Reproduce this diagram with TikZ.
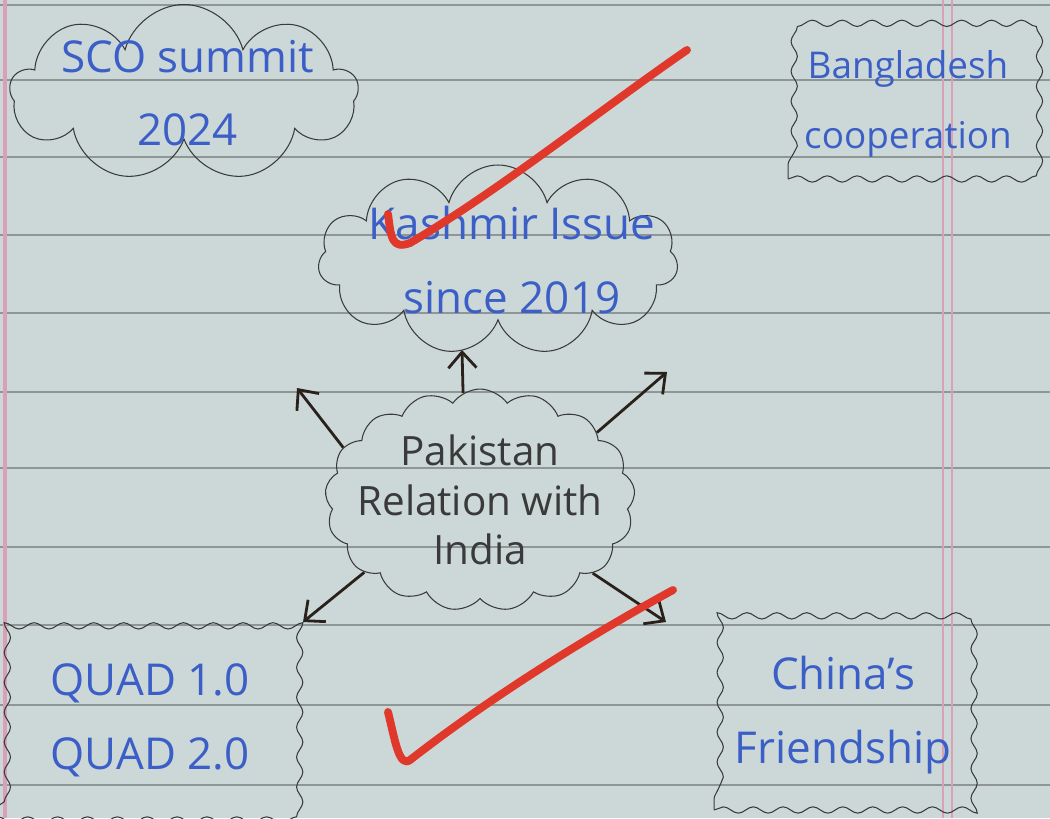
\documentclass[tikz,border=0pt]{standalone}
\usepackage{fontspec}
\setmainfont{Open Sans}
\usetikzlibrary{shapes.symbols,decorations.pathmorphing,arrows.meta}
\definecolor{paper}{HTML}{CCD8D8}
\definecolor{ruling}{HTML}{8E9696}
\definecolor{margin}{HTML}{D8A2B4}
\definecolor{pen}{HTML}{3B5FC6}
\definecolor{pencil}{HTML}{3A3A3A}
\definecolor{ink}{HTML}{2B211C}
\definecolor{marker}{HTML}{E0382A}

\begin{document}
\begin{tikzpicture}[x=0.02cm,y=-0.02cm,
	bubble/.style={cloud,cloud ignores aspect,draw=pencil,line width=0.6pt,inner sep=0pt},
	wavybox/.style={draw=pencil,line width=0.6pt,inner sep=0pt,decorate,decoration={snake,amplitude=1.8pt,segment length=17pt}},
	note/.style={text=pen,align=center,font=\fontsize{25}{42}\selectfont},
	pointer/.style={draw=ink,line width=1.6pt,-{Straight Barb[length=9pt,width=16pt]}},
	tick/.style={draw=marker,line width=4.5pt,line cap=round,line join=round}]
	        \fill[paper] (0,0) rectangle (1050,818);
	        \useasboundingbox (0,0) rectangle (1050,818);
	        \foreach \y in {5,80,157,235,313,392,468,547,625,705,785}
	        	\draw[ruling,line width=1.1pt] (0,\y) -- (1050,\y);
	        \draw[margin,line width=2.5pt] (5,0) -- (5,818);
	        \draw[margin,line width=1pt] (943,0) -- (943,818) (952,0) -- (952,818);

	        \node[bubble,cloud puffs=9,minimum width=6.96cm,minimum height=3.54cm,
	        	label={[note,xshift=2pt]center:SCO summit\\2024}] at (184,93) (sco) {};
	        \node[wavybox,minimum width=4.8cm,minimum height=3cm,
	        	label={[note,font=\fontsize{21}{40}\selectfont]center:Bangladesh\\cooperation}] at (908,104) (bd) {};
	        \node[bubble,cloud puffs=11,minimum width=7.2cm,minimum height=3.8cm,
	        	label={[note,xshift=8pt]center:Kashmir Issue\\since 2019}] at (498,260) (kash) {};
	        \node[bubble,cloud puffs=17,cloud puff arc=110,minimum width=6.2cm,minimum height=4.44cm,
	        	label={[note,text=pencil,font=\fontsize{23}{28}\selectfont]center:Pakistan\\Relation with\\India}] at (480,500) (pak) {};
	        \node[wavybox,minimum width=5.9cm,minimum height=4cm,
	        	label={[note,xshift=8pt]center:QUAD 1.0\\QUAD 2.0}] at (136,720) (quad) {};
	        \node[wavybox,minimum width=5.16cm,minimum height=3.8cm,
	        	label={[note]center:China's\\Friendship}] at (843,715) (china) {};

	        \coordinate (toN) at (462,350);
	        \coordinate (toNW) at (297,388);
	        \coordinate (toNE) at (667,372);
	        \coordinate (toSW) at (303,622);
	        \coordinate (toSE) at (666,622);
	        \draw[pointer] (pak.99) -- (toN);
	        \draw[pointer] (pak.159) -- (toNW);
	        \draw[pointer] (pak.30) -- (toNE);
	        \draw[pointer] (pak.212) -- (toSW);
	        \draw[pointer] (pak.327) -- (toSE);

	        \draw[tick] (388,214) .. controls (391,236) and (391,250) .. (410,243) .. controls (500,190) and (600,110) .. (687,50);
	        \draw[tick] (388,712) .. controls (395,740) and (399,768) .. (410,760) .. controls (500,690) and (600,630) .. (673,590);
	        %\draw[pointer] (pak) -- (kash);
		\end{tikzpicture}
\end{document}
